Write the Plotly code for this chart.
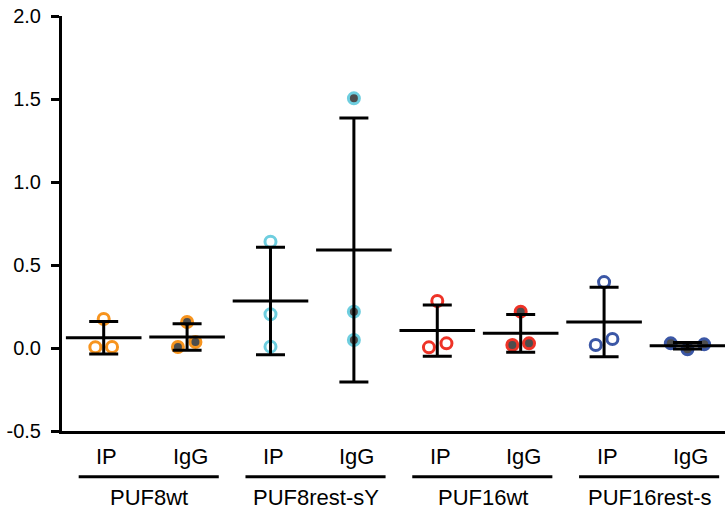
import numpy as np
import plotly.graph_objects as go

# ---- data ----
groups = ["PUF8wt", "PUF8rest-sY", "PUF16wt", "PUF16rest-s"]
conditions = ["IP", "IgG"]
puf8wt_ip = [0.175, 0.005, 0.006]
puf8wt_igg = [0.157, 0.006, 0.036]
puf8rest_ip = [0.640, 0.203, 0.008]
puf8rest_igg = [1.504, 0.219, 0.048]
puf16wt_ip = [0.283, 0.004, 0.028]
puf16wt_igg = [0.219, 0.018, 0.028]
puf16rest_ip = [0.397, 0.018, 0.054]
puf16rest_igg = [0.028, -0.008, 0.022]
y_ticks = [-0.5, 0.0, 0.5, 1.0, 1.5, 2.0]
y_tick_labels = ["-0.5", "0.0", "0.5", "1.0", "1.5", "2.0"]

series = [puf8wt_ip, puf8wt_igg, puf8rest_ip, puf8rest_igg,
          puf16wt_ip, puf16wt_igg, puf16rest_ip, puf16rest_igg]

# ---- layout / style (not data) ----
jitter = [[0, -0.10, 0.10], [0, -0.11, 0.10], [0, 0, 0], [0, 0, 0],
          [0, -0.10, 0.11], [0, -0.10, 0.10], [0, -0.10, 0.10], [-0.20, 0, 0.20]]
group_colors = ["#F7941E", "#6ECEDF", "#EE3327", "#3B57A6"]
FONT = "Liberation Sans, Arial, sans-serif"
FS = 20
FS_X = 22

fig = go.Figure()

xpos = list(range(1, len(series) + 1))
for i, vals in enumerate(series):
    color = group_colors[i // 2]
    is_igg = (i % 2 == 1)
    fig.add_trace(go.Scatter(
        x=[xpos[i] + j for j in jitter[i]], y=vals, mode="markers",
        marker=dict(symbol="circle", size=11,
                    color="#4D4D4D" if is_igg else "rgba(255,255,255,0)",
                    line=dict(color=color, width=3)),
        showlegend=False, hoverinfo="y"))

means = [float(np.mean(v)) for v in series]
sds = [float(np.std(v, ddof=1)) for v in series]
fig.add_trace(go.Scatter(
    x=xpos, y=means, mode="markers",
    marker=dict(symbol="line-ew", size=54, color="black",
                line=dict(color="black", width=3)),
    error_y=dict(type="data", array=sds, visible=True,
                 color="black", thickness=3, width=14.5),
    showlegend=False, hoverinfo="y"))

# category labels and group labels
annotations = []
for i, x in enumerate(xpos):
    annotations.append(dict(x=x, y=0, xref="x", yref="paper", yanchor="middle",
                            yshift=-25, xshift=3, text=conditions[i % 2],
                            showarrow=False, font=dict(family=FONT, size=FS_X, color="black")))
shapes = []
for g, name in enumerate(groups):
    cx = (xpos[2 * g] + xpos[2 * g + 1]) / 2
    annotations.append(dict(x=cx, y=0, xref="x", yref="paper", yanchor="middle",
                            yshift=-66, xshift=4, text=name,
                            showarrow=False, font=dict(family=FONT, size=FS_X, color="black")))
    shapes.append(dict(type="line", xref="x", yref="paper",
                       x0=cx - 0.80, x1=cx + 0.88, y0=-0.110, y1=-0.110,
                       line=dict(color="black", width=3)))

fig.update_layout(
    width=728, height=516,
    margin=dict(l=62, r=3, t=16, b=85),
    paper_bgcolor="white", plot_bgcolor="white",
    font=dict(family=FONT, size=FS, color="black"),
    annotations=annotations, shapes=shapes,
    xaxis=dict(range=[0.5, 8.45], showgrid=False, zeroline=False,
               showline=True, linecolor="black", linewidth=3,
               showticklabels=False, ticks=""),
    yaxis=dict(range=[-0.5, 2.0], tickvals=y_ticks, ticktext=y_tick_labels,
               showgrid=False, zeroline=False,
               showline=True, linecolor="black", linewidth=3,
               ticks="outside", ticklen=8, tickwidth=3, tickcolor="black",
               ticklabelstandoff=6,
               tickfont=dict(family=FONT, size=FS, color="black")),
)

fig.write_html("out.html", config={"displayModeBar": False})

# remove the default page margin so the figure sits at the window origin
with open("out.html", "r", encoding="utf-8") as f:
    html = f.read()
html = html.replace("<body>", '<body style="margin:0;padding:0;">', 1)
with open("out.html", "w", encoding="utf-8") as f:
    f.write(html)
